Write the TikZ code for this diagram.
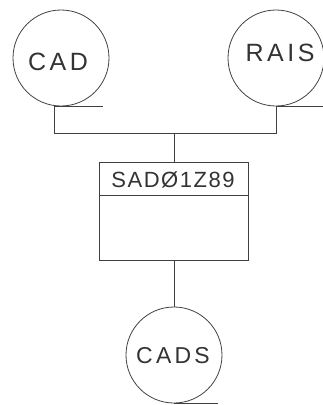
\documentclass[tikz,border=0pt]{standalone}
\usepackage{fontspec}
\setmainfont{Liberation Sans}
\newfontfamily\handfont[LetterSpace=14]{Liberation Sans}
\newfontfamily\handfontb[LetterSpace=7]{Liberation Sans}
\begin{document}
\begin{tikzpicture}[x=1pt,y=-1pt,
  ink/.style={draw=black!75, line width=0.8pt},
  store/.style={circle, ink, minimum size=96pt, inner sep=0pt},
  lbl/.style={font=\handfont\fontsize{25}{27}\selectfont, text=black!80, inner sep=0pt},
  procbox/.style={rectangle, ink, minimum width=149pt, minimum height=98pt, inner sep=0pt},
  title/.style={font=\handfontb\fontsize{22}{24}\selectfont, text=black!80, inner sep=0pt}]
\useasboundingbox (0,0) rectangle (322,405);
\node[store] (cad) at (61,58) {};
\node[lbl] (cadt) at (58,62) {CAD};
\node[store] (rais) at (276,58) {};
\node[lbl] (raist) at (280,53) {RAIS};
\node[procbox] (box) at (174,211) {};
\node[title] (ttl) at (173,180) {SADØ1Z89};
\node[store] (cads) at (174,355) {};
\node[lbl, font=\handfont\fontsize{23}{25}\selectfont] (cadst) at (173,356) {CADS};
% tails of stores
\draw[ink] ([xshift=-7pt]cad.south) -- ([xshift=42pt]cad.south);
\draw[ink] (rais.south) -- ([xshift=50pt]rais.south);
\draw[ink] (cads.south) -- ([xshift=44pt]cads.south);
% divider in process box
\draw[ink] ([yshift=-34pt]box.north west) -- ([yshift=-34pt]box.north east);
% connectors
\draw[ink] ([xshift=-7pt]cad.south) -- ++(0,27) coordinate (bend) -| (rais.south);
\draw[ink] (box.north) -- (box.north |- bend);
\draw[ink] (box.south) -- (cads.north);
\end{tikzpicture}
\end{document}
